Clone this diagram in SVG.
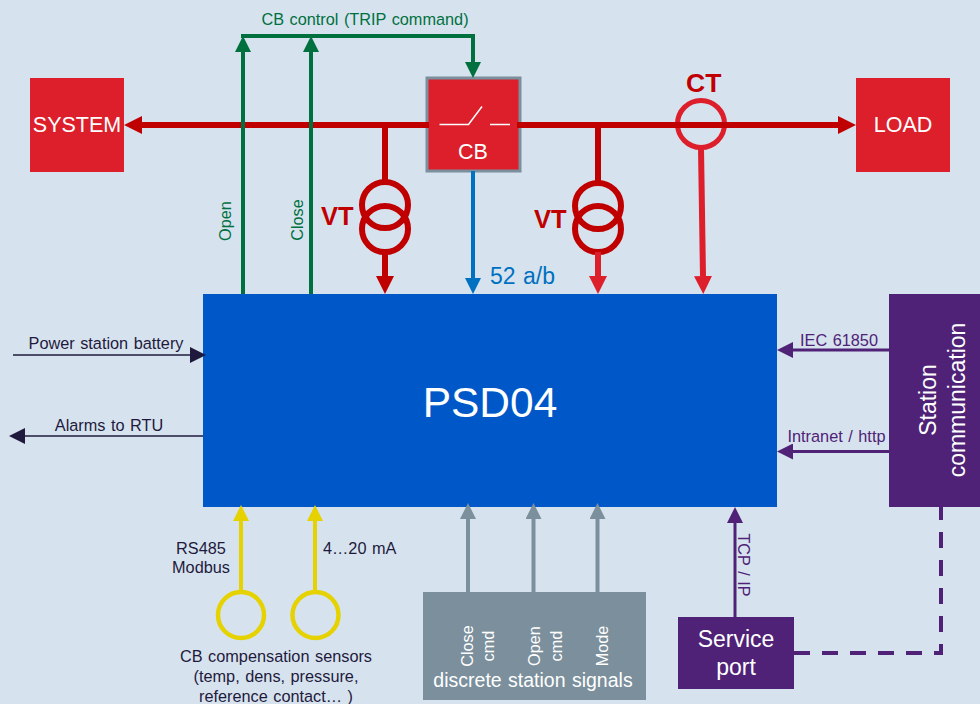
<svg xmlns="http://www.w3.org/2000/svg" width="980" height="704" viewBox="0 0 980 704">
<style>
text{font-family:"Liberation Sans",Arial,sans-serif;font-size:16.300px;word-spacing:1px}
.m{text-anchor:middle}
.w{fill:#fff}
.g{fill:#00703f}
.d{fill:#1f1a3d}
.p{fill:#4f2277}
.vt{fill:#c00000;font-weight:bold;font-size:25.500px}
.line{fill:none}
.red{stroke:#c00000;stroke-width:6}
.lred{stroke:#dc1f2b;stroke-width:6}
.grn{stroke:#00703f;stroke-width:4}
.yel{stroke:#e6d200;stroke-width:4}
.gry{stroke:#7b8f9c;stroke-width:4}
.pur{stroke:#4f2277;stroke-width:3}
.drk{stroke:#1f1a3d;stroke-width:1.700}
.blu{stroke:#0070c0;stroke-width:4}
</style>
<defs>
<marker id="aRed" markerUnits="userSpaceOnUse" markerWidth="18" markerHeight="18" refX="0" refY="9" orient="auto"><path d="M0 0L18 9L0 18z" fill="#c00000"/></marker>
<marker id="aLred" markerUnits="userSpaceOnUse" markerWidth="18" markerHeight="18" refX="0" refY="9" orient="auto"><path d="M0 0L18 9L0 18z" fill="#dc1f2b"/></marker>
<marker id="aGrn" markerUnits="userSpaceOnUse" markerWidth="16" markerHeight="16" refX="0" refY="8" orient="auto"><path d="M0 0L16 8L0 16z" fill="#00703f"/></marker>
<marker id="aYel" markerUnits="userSpaceOnUse" markerWidth="16" markerHeight="16" refX="0" refY="8" orient="auto"><path d="M0 0L16 8L0 16z" fill="#e6d200"/></marker>
<marker id="aGry" markerUnits="userSpaceOnUse" markerWidth="16" markerHeight="16" refX="0" refY="8" orient="auto"><path d="M0 0L16 8L0 16z" fill="#7b8f9c"/></marker>
<marker id="aPur" markerUnits="userSpaceOnUse" markerWidth="16" markerHeight="16" refX="0" refY="8" orient="auto"><path d="M0 0L16 8L0 16z" fill="#4f2277"/></marker>
<marker id="aDrk" markerUnits="userSpaceOnUse" markerWidth="16" markerHeight="16" refX="0" refY="8" orient="auto"><path d="M0 0L16 8L0 16z" fill="#1f1a3d"/></marker>
<marker id="aBlu" markerUnits="userSpaceOnUse" markerWidth="16" markerHeight="16" refX="0" refY="8" orient="auto"><path d="M0 0L16 8L0 16z" fill="#0070c0"/></marker>
</defs>
<rect width="980" height="704" fill="#d6e3ee"/>

<g id="system"><rect x="30" y="78" width="94" height="94" fill="#dc1f2b"/><text class="m w" x="77" y="132" style="font-size:21.500px">SYSTEM</text></g>
<g id="load"><rect x="856" y="78" width="94" height="94" fill="#dc1f2b"/><text class="m w" x="903" y="132" style="font-size:21.500px">LOAD</text></g>
<g id="cb"><rect x="427" y="78" width="93" height="93" fill="#dc1f2b" stroke="#7b8f9c" stroke-width="3"/>
<path d="M439.500 124.500H468.500L482 106.500M490 124.500H510" fill="none" stroke="#fff" stroke-width="1.500"/>
<text class="m w" x="473" y="159" style="font-size:21.500px">CB</text></g>
<g id="psd04"><rect x="203" y="294" width="574" height="213" fill="#0058c8"/><text class="m w" x="490" y="417" style="font-size:42.500px">PSD04</text></g>
<g id="station-communication"><rect x="889" y="294" width="91" height="213" fill="#4f2277"/>
<text class="m w" transform="translate(936 400) rotate(-90)" style="font-size:23px">Station</text>
<text class="m w" transform="translate(965 400) rotate(-90)" style="font-size:23px">communication</text></g>
<g id="service-port"><rect x="678" y="617" width="116" height="72" fill="#4f2277"/>
<text class="m w" x="736" y="647" style="font-size:23px">Service</text><text class="m w" x="736" y="675" style="font-size:23px">port</text></g>
<g id="discrete-signals"><rect x="423" y="592" width="223" height="108" fill="#7b8f9c"/>
<text class="m w" transform="translate(473 646) rotate(-90)">Close</text>
<text class="m w" transform="translate(494 646) rotate(-90)">cmd</text>
<text class="m w" transform="translate(540 646) rotate(-90)">Open</text>
<text class="m w" transform="translate(562 646) rotate(-90)">cmd</text>
<text class="m w" transform="translate(608 646) rotate(-90)">Mode</text>
<text class="m w" x="533" y="687" style="font-size:19.500px">discrete station signals</text></g>
<g id="sensor-1"><circle cx="241" cy="615" r="23" fill="none" stroke="#e6d200" stroke-width="4.500"/></g>
<g id="sensor-2"><circle cx="315.500" cy="615" r="23" fill="none" stroke="#e6d200" stroke-width="4.500"/></g>
<g id="vt-1"><circle cx="385" cy="205" r="23" fill="none" stroke="#c00000" stroke-width="6"/><circle cx="385" cy="229" r="23" fill="none" stroke="#c00000" stroke-width="6"/><text class="vt" x="321" y="225">VT</text></g>
<g id="vt-2"><circle cx="598" cy="206" r="23" fill="none" stroke="#c00000" stroke-width="6"/><circle cx="598" cy="229" r="23" fill="none" stroke="#c00000" stroke-width="6"/><text class="vt" x="534" y="228">VT</text></g>
<g id="ct"><circle cx="701" cy="124" r="23.500" fill="none" stroke="#dc1f2b" stroke-width="5"/><text class="vt" x="686" y="92" style="font-size:26.500px">CT</text></g>

<g id="connectors" class="line">
<path class="red" d="M429 125H142" marker-end="url(#aRed)"/>
<path class="red" d="M517 125H838" marker-end="url(#aRed)"/>
<path class="red" d="M385 125V181"/>
<path class="red" d="M385 252V276" marker-end="url(#aRed)"/>
<path class="red" d="M598 125V181"/>
<path class="lred" d="M598 252V276" marker-end="url(#aLred)"/>
<path class="lred" d="M701 148L703 276" marker-end="url(#aLred)"/>
<path class="grn" d="M243 294V52" marker-end="url(#aGrn)"/>
<path class="grn" d="M311 294V52" marker-end="url(#aGrn)"/>
<path class="grn" d="M241 36H473V62" marker-end="url(#aGrn)"/>
<path class="blu" d="M473 171V278" marker-end="url(#aBlu)"/>
<path class="yel" d="M241 591V521" marker-end="url(#aYel)"/>
<path class="yel" d="M315 591V521" marker-end="url(#aYel)"/>
<path class="gry" d="M468 592V519" marker-end="url(#aGry)"/>
<path class="gry" d="M533.500 592V519" marker-end="url(#aGry)"/>
<path class="gry" d="M597.500 592V519" marker-end="url(#aGry)"/>
<path class="pur" d="M889 350H793" marker-end="url(#aPur)"/>
<path class="pur" d="M889 451.500H793" marker-end="url(#aPur)"/>
<path class="pur" d="M735 617V523" marker-end="url(#aPur)"/>
<path d="M794 653H941V507" stroke="#4f2277" stroke-width="4" stroke-dasharray="16 12"/>
<path class="drk" d="M13 355H190" marker-end="url(#aDrk)"/>
<path class="drk" d="M203 436H25" marker-end="url(#aDrk)"/>
</g>

<g id="labels">
<text class="m g" x="365" y="25">CB control (TRIP command)</text>
<text class="m g" transform="translate(231 221) rotate(-90)">Open</text>
<text class="m g" transform="translate(303 220) rotate(-90)">Close</text>
<text x="490" y="284" style="font-size:23px;fill:#0070c0">52 a/b</text>
<text class="m d" x="106" y="349">Power station battery</text>
<text class="m d" x="109" y="431">Alarms to RTU</text>
<text class="m p" x="839" y="346">IEC 61850</text>
<text class="m p" x="836.500" y="442">Intranet / http</text>
<text class="m p" transform="translate(738 565) rotate(90)">TCP / IP</text>
<text class="m d" x="201" y="554">RS485</text>
<text class="m d" x="201" y="573">Modbus</text>
<text x="323" y="554" class="d">4…20 mA</text>
<text class="m d" x="276" y="662">CB compensation sensors</text>
<text class="m d" x="276" y="682">(temp, dens, pressure,</text>
<text class="m d" x="276" y="702">reference contact… )</text>
</g>
</svg>
